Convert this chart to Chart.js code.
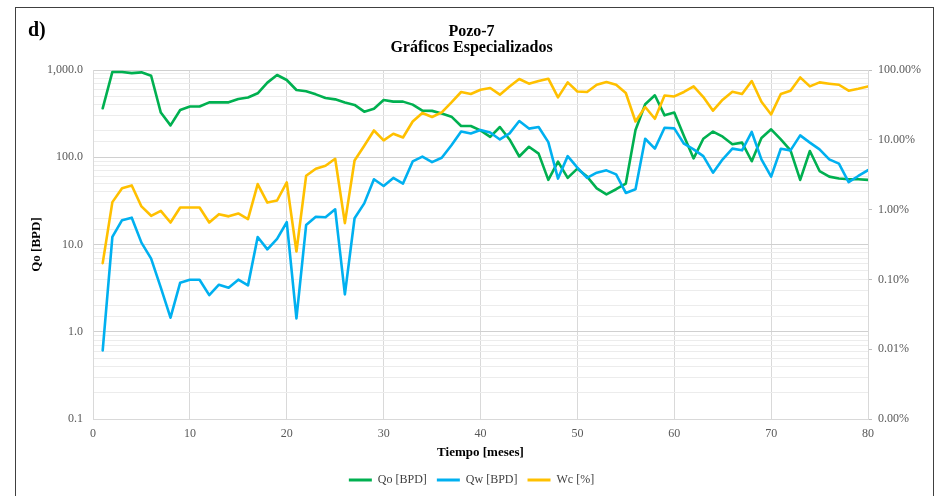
<!DOCTYPE html>
<html><head><meta charset="utf-8">
<script src="https://cdn.jsdelivr.net/npm/chart.js@4/dist/chart.umd.min.js"></script>
<style>
html,body{margin:0;padding:0;background:#fff;}
#wrap{position:relative;width:943px;height:496px;overflow:hidden;}
#frame{position:absolute;left:15px;top:7px;width:919px;height:600px;border:1px solid #404040;box-sizing:border-box;}
canvas{position:absolute;left:0;top:0;}
</style></head>
<body><div id="wrap"><div id="frame"></div><canvas id="c" width="943" height="496"></canvas></div>
<script>
const months = [1,2,3,4,5,6,7,8,9,10,11,12,13,14,15,16,17,18,19,20,21,22,23,24,25,26,27,28,29,30,31,32,33,34,35,36,37,38,39,40,41,42,43,44,45,46,47,48,49,50,51,52,53,54,55,56,57,58,59,60,61,62,63,64,65,66,67,68,69,70,71,72,73,74,75,76,77,78,79,80];
const qo = [364,950,950,920,940,860,325,232,348,381,381,426,426,426,465,484,541,717,877,768,590,570,526,477,461,423,398,333,360,453,434,434,401,342,340,318,292,228,228,203,171,222,160,102,132,110,55,89,58,74,60,44,37.6,43,50,205,405,513,302,325,175,97,163,197,172,141,147,90,166,209,160,120,55,118,69.5,60,57,56,56,55];
const qw = [0.61,12.2,19,20.3,10.5,6.9,3.2,1.45,3.65,3.95,3.95,2.63,3.46,3.2,3.95,3.4,12.2,8.8,11.6,18,1.42,16.7,20.8,20.5,25.3,2.68,20,29.6,55.9,46.8,58,50,89.6,101.6,88,98.6,137,197,187,205,192,160,188,260,213,222,149,57,103,76,58,66.6,70.8,63.7,39,43,163,125.6,218,214,143,123,103,66.6,94.6,125.6,120,195,94.6,60,125,120,178,147,123,94.6,84.5,52,61,71];
const wc = [0.171,1.28,2.03,2.22,1.11,0.815,0.96,0.653,1.07,1.07,1.07,0.653,0.86,0.80,0.88,0.73,2.32,1.26,1.35,2.45,0.251,3.05,3.85,4.25,5.35,0.64,5.06,8.2,13.6,9.8,12.2,10.8,18.3,24.2,21.2,24.7,34.3,48.4,45.3,52.2,55.2,44.3,58.2,74.3,63.7,69.5,75,40.5,66.4,49.3,48.4,61.5,67.3,61.5,46.8,18.3,29.5,20,43.2,41.8,48.4,58.2,41,26.1,37.5,48.9,45.3,69.5,35,23.1,45.3,50.5,78.3,58.2,66.4,63.7,61.5,50.5,54,58.2];
const xTicks = [0,10,20,30,40,50,60,70,80];
const leftTicks = [0.1,1,10,100,1000];
const rightTicks = [0.001,0.01,0.1,1,10,100];

const FONT = '"Liberation Serif", "Times New Roman", serif';
const isPow10 = v => Math.abs(Math.log10(v) - Math.round(Math.log10(v))) < 1e-6;
const pts = arr => months.map((m, i) => ({x: m, y: arr[i]}));

const cornerLabel = {
  id: 'cornerLabel',
  afterDraw(chart) {
    const ctx = chart.ctx;
    ctx.save();
    ctx.font = 'bold 20px ' + FONT;
    ctx.fillStyle = '#000';
    ctx.textBaseline = 'middle';
    ctx.fillText('d)', 28, 31);
    ctx.restore();
  }
};

new Chart(document.getElementById('c'), {
  type: 'line',
  data: {
    datasets: [
      {label: 'Qo [BPD]', data: pts(qo), borderColor: '#00B050', backgroundColor: '#00B050', yAxisID: 'y', order: 2},
      {label: 'Qw [BPD]', data: pts(qw), borderColor: '#00B0F0', backgroundColor: '#00B0F0', yAxisID: 'y', order: 1},
      {label: 'Wc [%]', data: pts(wc), borderColor: '#FFC000', backgroundColor: '#FFC000', yAxisID: 'y2', order: 0}
    ]
  },
  plugins: [cornerLabel],
  options: {
    responsive: false,
    animation: false,
    devicePixelRatio: 1,
    layout: {padding: {left: 0, right: 0, top: 0, bottom: 0}},
    elements: {
      line: {borderWidth: 2.6, tension: 0, borderJoinStyle: 'round', borderCapStyle: 'round'},
      point: {radius: 0, hoverRadius: 0}
    },
    plugins: {
      tooltip: {enabled: false},
      title: {
        display: true,
        text: ['Pozo-7', 'Gráficos Especializados'],
        color: '#000',
        font: {family: FONT, size: 16, weight: 'bold', lineHeight: 1.0},
        padding: {top: 24, bottom: 14}
      },
      legend: {
        position: 'bottom',
        reverse: true,
        labels: {
          color: '#404040',
          font: {family: FONT, size: 12},
          boxWidth: 23,
          boxHeight: 3,
          padding: 10,
          generateLabels(chart) {
            return Chart.defaults.plugins.legend.labels.generateLabels(chart).map(l => Object.assign(l, {lineWidth: 0}));
          }
        }
      }
    },
    scales: {
      x: {
        type: 'linear',
        min: 0, max: 80,
        afterBuildTicks(scale) { scale.ticks = xTicks.map(v => ({value: v})); },
        afterFit(scale) { scale.height = 45; },
        ticks: {color: '#595959', font: {family: FONT, size: 12}, padding: 8, maxRotation: 0},
        grid: {
          drawTicks: false,
          color: ctx => (ctx.tick && (ctx.tick.value === 0 || ctx.tick.value === 80)) ? 'rgba(0,0,0,0)' : '#d9d9d9'
        },
        border: {display: true, color: '#d9d9d9'},
        title: {display: true, text: 'Tiempo [meses]', color: '#000', font: {family: FONT, size: 13, weight: 'bold'}, padding: {top: 0, bottom: 4}}
      },
      y: {
        type: 'logarithmic',
        position: 'left',
        min: 0.1, max: 1000,
        afterFit(scale) { scale.width = 93; },
        ticks: {
          autoSkip: false,
          color: '#595959',
          font: {family: FONT, size: 12},
          padding: 10,
          callback: v => leftTicks.some(t => Math.abs(t - v) / t < 1e-6) ? Number(v).toLocaleString('en-US', {minimumFractionDigits: 1, maximumFractionDigits: 1}) : ''
        },
        grid: {
          drawTicks: false,
          color: ctx => (ctx.tick && isPow10(ctx.tick.value)) ? '#d0d0d0' : '#ececec'
        },
        border: {display: true, color: '#d9d9d9'},
        title: {display: true, text: 'Qo [BPD]', color: '#000', font: {family: FONT, size: 13, weight: 'bold'}, padding: {top: 29, bottom: 0}}
      },
      y2: {
        type: 'logarithmic',
        position: 'right',
        min: 0.001, max: 100,
        afterFit(scale) { scale.width = 75; },
        ticks: {
          autoSkip: false,
          color: '#595959',
          font: {family: FONT, size: 12},
          padding: 6,
          callback: v => rightTicks.some(t => Math.abs(t - v) / t < 1e-6) ? Number(v).toFixed(2) + '%' : ''
        },
        grid: {
          drawOnChartArea: false,
          drawTicks: true,
          tickLength: 4,
          color: ctx => (ctx.tick && isPow10(ctx.tick.value)) ? '#bfbfbf' : 'rgba(0,0,0,0)'
        },
        border: {display: true, color: '#d9d9d9'}
      }
    }
  }
});
</script>
</body></html>
